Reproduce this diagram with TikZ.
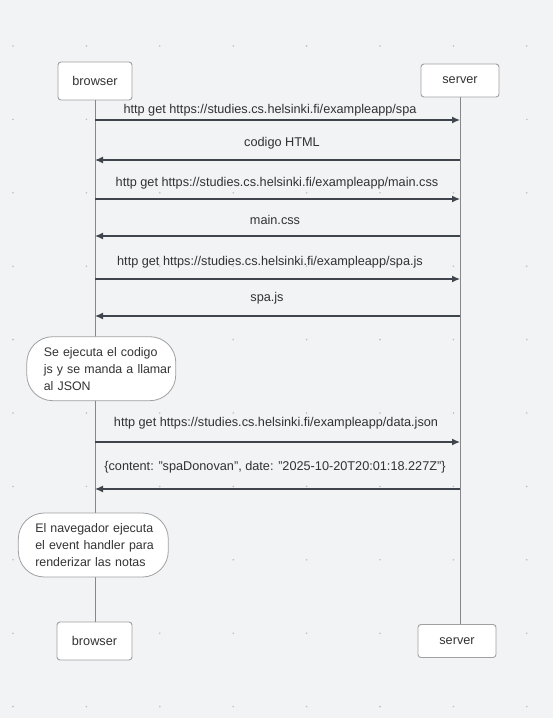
\documentclass[tikz,border=0pt]{standalone}
\usepackage{fontspec}
\setmainfont{Liberation Sans}
\usepackage{tikz}
\usetikzlibrary{arrows.meta}
\definecolor{bgcol}{RGB}{242,243,245}
\definecolor{dotcol}{RGB}{190,192,196}
\definecolor{txtcol}{RGB}{50,50,52}
\definecolor{boxcol}{RGB}{160,160,162}
\definecolor{msgcol}{RGB}{64,68,76}
\definecolor{linecol}{RGB}{135,135,138}

\begin{document}
\begin{tikzpicture}[x=1pt,y=-1pt,
	every node/.style={font=\fontsize{12.7}{17}\selectfont,text=txtcol},
	actor/.style={draw=boxcol,fill=white,rounded corners=3pt,line width=0.9pt},
	note/.style={draw=boxcol,fill=white,rounded corners=26pt,line width=0.8pt,minimum height=64pt,inner xsep=17pt,align=left,font=\fontsize{12.4}{17}\selectfont},
	msg/.style={draw=msgcol,line width=1.3pt,-{Latex[length=8pt,width=7pt]}},
	lifeline/.style={draw=linecol,line width=0.9pt}]
	\fill [bgcol] (0,0) rectangle (553,718) ;
	\useasboundingbox (0,0) rectangle (553,718) ;
	\foreach \i in {0,...,7}
		\foreach \j in {0,...,9}
			\fill [dotcol] (13+73.4*\i,46+73.4*\j) circle [radius=0.9] ;
	\node [actor,minimum width=74pt,minimum height=38pt] (browserTop) at (95,81) {browser} ;
	\node [actor,minimum width=78pt,minimum height=33pt] (serverTop) at (460,80.5) {server} ;
	\node [actor,minimum width=75pt,minimum height=38pt] (browserBot) at (94.5,641) {browser} ;
	\node [actor,minimum width=78pt,minimum height=33pt] (serverBot) at (457,641) {server} ;
	\draw [lifeline] (browserTop.south) -- (browserTop.south |- browserBot.north) ;
	\draw [lifeline] (serverTop.south) -- (serverTop.south |- serverBot.north) ;
	\foreach \y [count=\i] in {120,160,199,236,279,316,442,489} {
		\coordinate (b\i) at (95,\y) ;
		\coordinate (s\i) at (460,\y) ;
	}
	\draw [msg] (b1) -- (s1) ;
	\draw [msg] (s2) -- (b2) ;
	\draw [msg] (b3) -- (s3) ;
	\draw [msg] (s4) -- (b4) ;
	\draw [msg] (b5) -- (s5) ;
	\draw [msg] (s6) -- (b6) ;
	\draw [msg] (b7) -- (s7) ;
	\draw [msg] (s8) -- (b8) ;
	\node (getSpa) at (270,110) {http get https://studies.cs.helsinki.fi/exampleapp/spa} ;
	\node (htmlCode) at (282,143) {codigo HTML} ;
	\node (getCss) at (277,183) {http get https://studies.cs.helsinki.fi/exampleapp/main.css} ;
	\node (cssFile) at (275,220) {main.css} ;
	\node (getJs) at (270,262) {http get https://studies.cs.helsinki.fi/exampleapp/spa.js} ;
	\node (jsFile) at (267,298) {spa.js} ;
	\node (getJson) at (276,423) {http get https://studies.cs.helsinki.fi/exampleapp/data.json} ;
	\node (jsonData) at (275,467) {\{content: "spaDonovan", date: "2025-10-20T20:01:18.227Z"\}} ;
	\node [note,text width=115pt] (jsNote) at (101.3,368.7) {\mbox{Se ejecuta el codigo}\\ \mbox{js y se manda a llamar}\\ \mbox{al JSON}} ;
	\node [note,text width=116pt] (renderNote) at (93.3,545) {\mbox{El navegador ejecuta}\\ \mbox{el event handler para}\\ \mbox{renderizar las notas}} ;
\end{tikzpicture}
\end{document}
